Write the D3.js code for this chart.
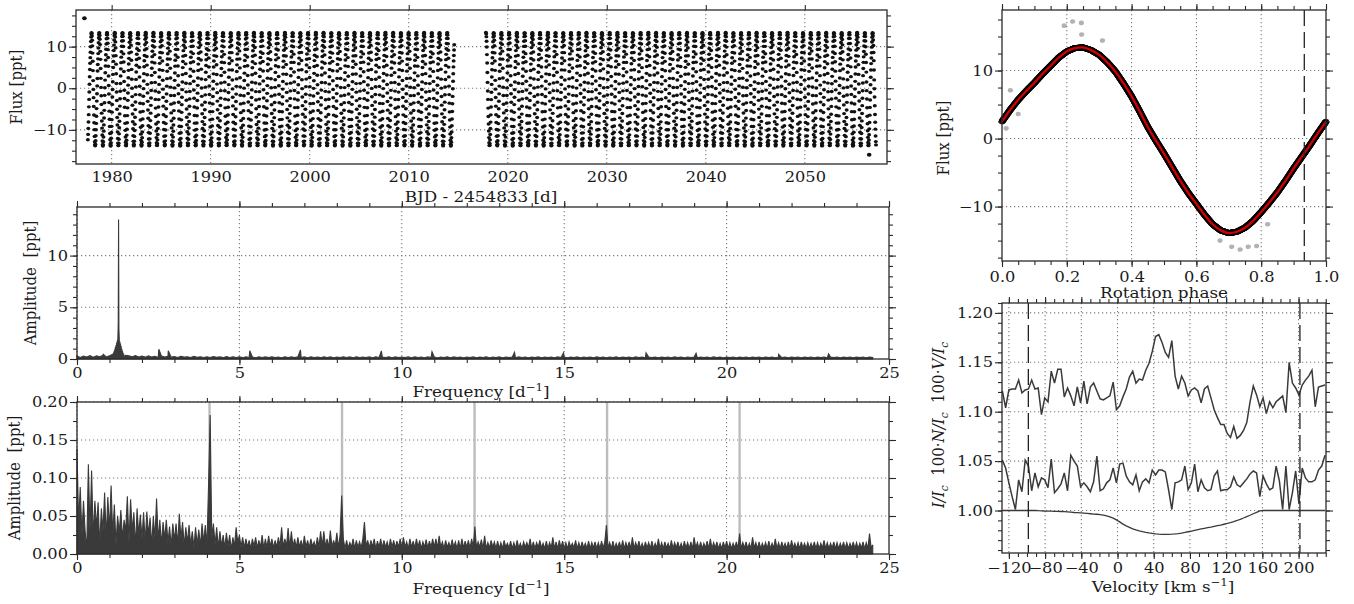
<!DOCTYPE html>
<html><head><meta charset="utf-8">
<script src="https://cdn.jsdelivr.net/npm/d3@7"></script>
<style>
body{margin:0;background:#fff;}
svg text{font-family:"DejaVu Serif",serif;}
</style></head><body>
<svg id="c" width="1354" height="604"></svg>
<script>
// ---------------- DATA ----------------
// K2 light curve: observing windows, cadence, rotation frequency, epoch
const lcSegments = [[1977.6, 2014.6], [2017.8, 2057.2]];
const lcCadence = 0.02043;
const rotFreq = 1.2805;
const lcEpoch = 1977.0;
// phase-folded rotational modulation (red model)
const phaseGrid = [0,0.025,0.05,0.075,0.1,0.125,0.15,0.175,0.2,0.225,0.25,0.275,0.3,0.325,0.35,0.375,0.4,0.425,0.45,0.475,
  0.5,0.525,0.55,0.575,0.6,0.625,0.65,0.675,0.7,0.725,0.75,0.775,0.8,0.825,0.85,0.875,0.9,0.925,0.95,0.975,1.0];
const phaseFlux = [2.5,4.2,5.7,7.0,8.2,9.5,10.7,11.9,12.8,13.3,13.4,13.0,12.3,11.2,9.85,8.1,6.2,4.0,1.7,-0.3,
  -2.2,-4.2,-6.2,-8.0,-9.6,-11.2,-12.6,-13.5,-13.9,-13.7,-13.1,-12.1,-10.8,-9.4,-7.9,-6.2,-4.4,-2.7,-1.0,0.8,2.5];
// isolated outliers
const lcOutTime = [1977.25, 2056.5];
const lcOutFlux = [16.8, -16.0];
const phOutPhase = [0.192,0.218,0.245,0.246,0.026,0.013,0.673,0.709,0.735,0.76,0.786,0.82,0.05,0.31];
const phOutFlux  = [16.6,17.2,17.0,15.3,7.1,1.5,-15.0,-15.9,-16.3,-15.9,-15.8,-12.6,3.6,14.4];
const dashPhase = 0.933;

// Amplitude spectrum of the light curve (0.1 d^-1 grid) + peaks
const ampStep = 0.1;
const ampNoise = [
0.30,0.15,0.28,0.20,0.32,0.18,0.30,0.22,0.35,0.20,
0.32,0.25,0.40,0.30,0.42,0.35,0.30,0.22,0.34,0.20,
0.28,0.18,0.30,0.20,0.26,0.15,0.28,0.20,0.25,0.18,
0.24,0.15,0.26,0.18,0.22,0.14,0.25,0.17,0.22,0.15,
0.22,0.14,0.24,0.16,0.20,0.13,0.23,0.15,0.21,0.14,
0.20,0.13,0.22,0.15,0.19,0.12,0.21,0.14,0.20,0.13,
0.21,0.14,0.19,0.12,0.22,0.15,0.20,0.13,0.21,0.14,
0.20,0.12,0.21,0.14,0.19,0.13,0.22,0.15,0.20,0.12,
0.19,0.13,0.21,0.14,0.20,0.12,0.22,0.14,0.19,0.13,
0.20,0.12,0.21,0.13,0.19,0.14,0.22,0.12,0.20,0.13,
0.19,0.13,0.20,0.12,0.21,0.14,0.19,0.12,0.20,0.13,
0.20,0.12,0.19,0.13,0.21,0.12,0.20,0.14,0.19,0.12,
0.19,0.13,0.20,0.12,0.18,0.14,0.21,0.12,0.19,0.13,
0.20,0.12,0.19,0.13,0.18,0.12,0.20,0.14,0.19,0.12,
0.18,0.13,0.20,0.12,0.19,0.14,0.18,0.12,0.20,0.13,
0.19,0.12,0.18,0.13,0.20,0.12,0.19,0.14,0.18,0.12,
0.20,0.13,0.18,0.12,0.19,0.14,0.20,0.12,0.18,0.13,
0.19,0.12,0.20,0.13,0.18,0.12,0.19,0.14,0.18,0.12,
0.18,0.13,0.19,0.12,0.20,0.14,0.18,0.12,0.19,0.13,
0.19,0.12,0.18,0.13,0.19,0.12,0.20,0.14,0.18,0.12,
0.18,0.13,0.19,0.12,0.18,0.14,0.19,0.12,0.18,0.13,
0.19,0.12,0.18,0.13,0.19,0.12,0.18,0.14,0.19,0.12,
0.18,0.13,0.19,0.12,0.18,0.14,0.19,0.12,0.18,0.13,
0.19,0.12,0.18,0.13,0.19,0.12,0.18,0.14,0.19,0.12,
0.18,0.13,0.19,0.12,0.18,0.14];
const peakRegion = [1.095, 1.455];
const peakFreq = [1.10,1.11,1.12,1.13,1.14,1.15,1.16,1.17,1.18,1.19,1.20,1.21,1.22,1.23,1.24,1.25,1.26,1.27,1.28,1.29,1.30,1.31,1.32,1.33,1.34,1.35,1.36,1.37,1.38,1.39,1.40,1.41,1.42,1.43,1.44,1.45,
  0.81,2.52,2.81,5.32,6.88,9.37,10.93,13.47,14.98,17.52,19.06,21.6,23.14];
const peakAmp = [0.45,0.2,0.6,0.25,0.75,0.3,0.95,0.35,1.15,0.4,1.35,0.5,1.6,0.6,1.8,0.8,2.2,3.5,13.5,3.0,2.0,0.8,1.7,0.6,1.5,0.5,1.25,0.4,1.0,0.35,0.8,0.3,0.6,0.25,0.45,0.2,
  0.45,0.95,0.8,0.8,0.88,0.78,0.7,0.65,0.6,0.6,0.55,0.45,0.5];

// Residual amplitude spectrum (0.05 d^-1 grid)
const resStep = 0.05;
const resAmp = [
0.138,0.04,0.088,0.025,0.07,0.03,0.005,0.118,0.03,0.11,0.02,0.07,0.035,0.068,0.01,0.06,0.03,0.081,0.02,0.075,
0.03,0.09,0.025,0.065,0.012,0.05,0.028,0.058,0.02,0.045,0.03,0.076,0.015,0.072,0.03,0.055,0.01,0.06,0.025,0.052,
0.02,0.055,0.015,0.056,0.025,0.048,0.01,0.05,0.02,0.073,0.018,0.045,0.012,0.042,0.02,0.045,0.015,0.036,0.01,0.04,
0.018,0.04,0.012,0.053,0.02,0.042,0.01,0.035,0.015,0.038,0.012,0.03,0.008,0.035,0.012,0.032,0.01,0.04,0.015,0.038,
0.01,0.09,0.183,0.02,0.04,0.012,0.035,0.008,0.03,0.01,0.025,0.008,0.028,0.01,0.025,0.006,0.022,0.01,0.035,0.015,
0.025,0.009,0.022,0.008,0.02,0.009,0.018,0.007,0.02,0.01,0.022,0.008,0.018,0.009,0.025,0.007,0.02,0.008,0.024,0.01,
0.02,0.008,0.018,0.009,0.022,0.01,0.035,0.009,0.02,0.01,0.034,0.008,0.03,0.009,0.02,0.008,0.022,0.009,0.018,0.008,
0.024,0.009,0.018,0.008,0.02,0.01,0.016,0.008,0.022,0.009,0.03,0.01,0.03,0.009,0.02,0.008,0.031,0.009,0.018,0.01,
0.028,0.008,0.025,0.077,0.02,0.007,0.018,0.008,0.015,0.009,0.02,0.007,0.018,0.009,0.016,0.008,0.02,0.042,0.01,0.018,
0.008,0.018,0.009,0.02,0.007,0.017,0.009,0.02,0.008,0.018,0.009,0.016,0.007,0.02,0.009,0.018,0.008,0.017,0.009,0.02,
0.008,0.022,0.009,0.016,0.007,0.02,0.009,0.017,0.008,0.02,0.009,0.018,0.007,0.016,0.009,0.019,0.008,0.017,0.009,0.02,
0.009,0.02,0.008,0.024,0.009,0.016,0.007,0.018,0.009,0.015,0.008,0.019,0.009,0.016,0.007,0.018,0.007,0.02,0.008,0.017,
0.009,0.018,0.007,0.02,0.009,0.036,0.008,0.016,0.009,0.019,0.007,0.024,0.007,0.015,0.008,0.018,0.009,0.016,0.007,0.017,
0.007,0.015,0.007,0.018,0.009,0.014,0.008,0.017,0.007,0.015,0.007,0.018,0.008,0.014,0.007,0.016,0.009,0.015,0.008,0.02,
0.007,0.016,0.007,0.015,0.009,0.018,0.008,0.014,0.007,0.017,0.007,0.015,0.008,0.022,0.007,0.016,0.007,0.018,0.008,0.017,
0.007,0.015,0.007,0.016,0.009,0.014,0.008,0.018,0.007,0.015,0.007,0.016,0.008,0.014,0.007,0.017,0.007,0.015,0.008,0.016,
0.007,0.015,0.007,0.017,0.008,0.016,0.038,0.008,0.015,0.007,0.017,0.007,0.014,0.008,0.016,0.007,0.018,0.007,0.015,0.008,
0.016,0.007,0.022,0.007,0.015,0.008,0.017,0.007,0.014,0.007,0.016,0.008,0.015,0.007,0.017,0.007,0.014,0.008,0.02,0.007,
0.015,0.007,0.016,0.008,0.014,0.007,0.018,0.007,0.015,0.008,0.016,0.007,0.014,0.007,0.017,0.008,0.015,0.007,0.016,0.007,
0.022,0.008,0.015,0.007,0.016,0.007,0.014,0.008,0.017,0.007,0.02,0.007,0.015,0.008,0.016,0.007,0.014,0.007,0.016,0.008,
0.017,0.007,0.015,0.007,0.014,0.008,0.016,0.007,0.027,0.007,0.015,0.008,0.016,0.007,0.014,0.007,0.022,0.008,0.015,0.007,
0.016,0.007,0.014,0.008,0.015,0.007,0.017,0.007,0.014,0.008,0.02,0.007,0.015,0.007,0.016,0.008,0.014,0.007,0.016,0.007,
0.018,0.008,0.014,0.007,0.015,0.007,0.016,0.008,0.014,0.007,0.015,0.007,0.014,0.008,0.016,0.007,0.015,0.007,0.014,0.008,
0.018,0.007,0.015,0.007,0.014,0.008,0.016,0.007,0.015,0.007,0.014,0.008,0.016,0.007,0.015,0.007,0.014,0.008,0.016,0.007,
0.015,0.007,0.014,0.008,0.016,0.007,0.015,0.007,0.027,0.008,0.012];
const harmonicFreqs = [4.08, 8.16, 12.24, 16.32, 20.40];

// LSD profiles (velocity grid start/step in km/s)
const velStart = -127.2, velStep = 3.6;
const stokesV = [
1.121,1.104,1.122,1.123,1.123,1.132,1.119,1.122,1.123,1.132,
1.123,1.124,1.097,1.114,1.110,1.141,1.129,1.143,1.143,1.115,
1.124,1.116,1.106,1.125,1.109,1.131,1.108,1.125,1.129,1.121,
1.113,1.112,1.114,1.116,1.130,1.102,1.106,1.115,1.123,1.135,
1.141,1.129,1.133,1.132,1.142,1.149,1.161,1.176,1.178,1.170,
1.160,1.155,1.172,1.136,1.123,1.136,1.129,1.116,1.122,1.124,
1.121,1.109,1.123,1.126,1.114,1.102,1.094,1.087,1.087,1.078,
1.074,1.085,1.073,1.076,1.081,1.089,1.110,1.126,1.117,1.105,
1.114,1.098,1.110,1.104,1.110,1.113,1.116,1.099,1.150,1.129,
1.124,1.117,1.127,1.132,1.136,1.142,1.105,1.125,1.126,1.127];
const stokesN = [
1.051,1.043,1.028,1.014,1.001,1.031,1.019,1.051,1.045,1.020,
1.038,1.024,1.033,1.031,1.023,1.052,1.018,1.022,1.027,1.038,
1.020,1.056,1.050,1.045,1.024,1.028,1.024,1.019,1.029,1.055,
1.020,1.022,1.028,1.031,1.043,1.028,1.047,1.048,1.035,1.029,
1.026,1.036,1.020,1.029,1.032,1.028,1.041,1.036,1.041,1.041,
1.039,1.021,1.001,1.028,1.029,1.031,1.045,1.021,1.028,1.047,
1.019,1.031,1.023,1.020,1.021,1.035,1.040,1.020,1.021,1.021,
1.024,1.034,1.026,1.024,1.028,1.032,1.037,1.040,1.038,1.014,
1.035,1.027,1.021,1.023,1.045,1.030,1.001,1.045,1.001,1.018,
1.040,1.007,1.043,1.033,1.029,1.029,1.031,1.041,1.045,1.056];
const stokesI = [
1.000,1.000,1.000,1.000,1.000,1.000,1.000,1.000,1.000,1.000,
1.000,0.9998,0.9997,0.9995,0.9994,0.9993,0.9992,0.9991,0.9990,0.9989,
0.9986,0.9983,0.9980,0.9978,0.9976,0.9973,0.9970,0.9967,0.9964,0.9962,
0.9959,0.9953,0.9945,0.9935,0.9922,0.9905,0.9885,0.9862,0.9845,0.9830,
0.9815,0.9804,0.9794,0.9786,0.9779,0.9773,0.9768,0.9764,0.9761,0.9759,
0.9758,0.9758,0.9760,0.9763,0.9767,0.9772,0.9778,0.9785,0.9792,0.9799,
0.9806,0.9813,0.9820,0.9826,0.9832,0.9839,0.9846,0.9853,0.9861,0.9869,
0.9878,0.9888,0.9899,0.9911,0.9924,0.9938,0.9952,0.9967,0.9982,0.9996,
1.000,1.000,1.000,1.000,1.000,1.000,1.000,1.000,1.000,1.000,
1.000,1.000,1.000,1.000,1.000,1.000,1.000,1.000,1.000,1.000];
const vsiniLimits = [-98.5, 201.5];

// ---------------- DRAWING ----------------
const svg = d3.select('#c');
const FONT = '"DejaVu Serif", serif';
const TICKFS = 14.5, LABFS = 15, SX = 1.12;   // text is drawn slightly wide, as in the original
const INK = '#1a1a1a';

function panel(p) {
  const x = d3.scaleLinear().domain(p.xDom).range([p.l, p.r]);
  const y = d3.scaleLinear().domain(p.yDom).range([p.b, p.t]);
  const g = svg.append('g');
  const grid = g.append('g').attr('stroke', '#7a7a7a').attr('stroke-width', 1.1).attr('stroke-dasharray', '1.2,2.8');
  grid.selectAll('line.v').data(p.xGrid).join('line').attr('class','v')
    .attr('x1', d => x(d)).attr('x2', d => x(d)).attr('y1', p.t).attr('y2', p.b);
  grid.selectAll('line.h').data(p.yGrid).join('line').attr('class','h')
    .attr('y1', d => y(d)).attr('y2', d => y(d)).attr('x1', p.l).attr('x2', p.r);
  const plot = g.append('g');
  const top = g.append('g');
  return {x, y, p, g, plot, top};
}
function axis(P, side, vals, size, fmt, pad) {
  const {x, y, p, top} = P;
  const gen = {left: d3.axisLeft, right: d3.axisRight, top: d3.axisTop, bottom: d3.axisBottom}[side];
  const sc = (side === 'left' || side === 'right') ? y : x;
  const a = gen(sc).tickValues(vals).tickSize(size).tickPadding(pad == null ? 3 : pad)
    .tickFormat(fmt ? fmt : () => '');
  const tr = {left: `translate(${p.l},0)`, right: `translate(${p.r},0)`, top: `translate(0,${p.t})`, bottom: `translate(0,${p.b})`}[side];
  const gg = top.append('g').attr('transform', tr).call(a);
  gg.select('.domain').remove();
  gg.attr('font-family', FONT).attr('font-size', TICKFS).attr('color', '#2a2a2a');
  gg.selectAll('line').attr('stroke-width', 1.1);
  gg.selectAll('text').attr('fill', INK).attr('font-size', TICKFS);
  if (side === 'left') {
    const off = size + (pad == null ? 3 : pad);
    gg.selectAll('text').attr('x', 0).attr('transform', `translate(${-off},0) scale(${SX},1)`);
  } else {
    gg.selectAll('text').attr('transform', `scale(${SX},1)`);
  }
  return gg;
}
function frame(P) {
  const {p, top} = P;
  top.append('rect').attr('x', p.l).attr('y', p.t).attr('width', p.r - p.l).attr('height', p.b - p.t)
    .attr('fill', 'none').attr('stroke', '#2a2a2a').attr('stroke-width', 1.3);
}
function label(txt, x, y, rot) {
  const t = svg.append('text').attr('font-size', LABFS).attr('fill', INK)
    .attr('text-anchor', 'middle').style('white-space', 'pre')
    .attr('transform', `translate(${x},${y})` + (rot ? ` rotate(-90) scale(1,${SX})` : ` scale(${SX},1)`));
  if (typeof txt === 'string') t.text(txt); else txt(t);
  return t;
}
function supLabel(base, sup, tail) {
  return t => {
    t.append('tspan').text(base);
    t.append('tspan').attr('dy', -6).attr('font-size', 10.5).text(sup);
    t.append('tspan').attr('dy', 6).text(tail);
  };
}

// derived points
const fluxAtPhase = d3.scaleLinear().domain(phaseGrid).range(phaseFlux);
const lcTimes = lcSegments.flatMap(([a, b]) => d3.range(a, b, lcCadence));
const lcPoints = lcTimes.map(t => {
  const ph = ((t - lcEpoch) * rotFreq) % 1;
  return {t, ph, f: fluxAtPhase(ph)};
});

// ---- Panel 1: light curve ----
const P1 = panel({l: 76, r: 887, t: 10, b: 164, xDom: [1976.4, 2058.3], yDom: [-18.2, 18.8],
  xGrid: d3.range(1980, 2051, 10), yGrid: [-10, 0, 10]});
P1.plot.selectAll('ellipse').data(lcPoints).join('ellipse')
  .attr('cx', d => P1.x(d.t)).attr('cy', d => P1.y(d.f)).attr('rx', 2.0).attr('ry', 1.7).attr('fill', '#111');
P1.plot.selectAll('ellipse.o').data(lcOutTime).join('ellipse').attr('class','o')
  .attr('cx', d => P1.x(d)).attr('cy', (d, i) => P1.y(lcOutFlux[i])).attr('rx', 2.3).attr('ry', 2).attr('fill', '#111');
frame(P1);
axis(P1, 'left', [-10, 0, 10], 7, d3.format('d'), 2);
axis(P1, 'left', d3.range(-17.5, 18, 2.5), 4);
axis(P1, 'right', [-10, 0, 10], 7);
axis(P1, 'right', d3.range(-17.5, 18, 2.5), 4);
axis(P1, 'top', d3.range(1980, 2051, 10), 5);
axis(P1, 'bottom', d3.range(1980, 2051, 10), 0, d3.format('d'), 8);
label('BJD - 2454833 [d]', 481, 202);
label('Flux [ppt]', 22, 87, true);

// ---- Panel 2: amplitude spectrum ----
const specPts = ampNoise.map((a, i) => [i * ampStep, a])
  .filter(d => d[0] < peakRegion[0] || d[0] > peakRegion[1])
  .concat(peakFreq.map((f, i) => [f, peakAmp[i]]))
  .sort((a, b) => a[0] - b[0]);
const P2 = panel({l: 77, r: 889, t: 207, b: 359, xDom: [0, 25], yDom: [0, 14.7],
  xGrid: [0, 5, 10, 15, 20], yGrid: [5, 10]});
P2.plot.append('path').datum(specPts)
  .attr('d', d3.area().x(d => P2.x(d[0])).y0(P2.y(0)).y1(d => P2.y(d[1])))
  .attr('fill', '#3a3a3a').attr('stroke', '#3a3a3a').attr('stroke-width', 1.1);
frame(P2);
axis(P2, 'left', [0, 5, 10], 7, d3.format('d'), 2);
axis(P2, 'left', d3.range(0, 14.5, 1), 4);
axis(P2, 'right', [0, 5, 10], 7);
axis(P2, 'right', d3.range(0, 14.5, 1), 4);
axis(P2, 'top', d3.range(0, 26, 5), 6);
axis(P2, 'top', d3.range(0, 26, 1), 4);
axis(P2, 'bottom', d3.range(0, 26, 5), 6, d3.format('d'), 3);
axis(P2, 'bottom', d3.range(0, 26, 1), 4);
label(supLabel('Frequency [d', '−1', ']'), 481, 397);
label('Amplitude  [ppt]', 36, 283, true);

// ---- Panel 3: residual spectrum ----
const P3 = panel({l: 77, r: 889, t: 402, b: 554, xDom: [0, 25], yDom: [0, 0.2],
  xGrid: [0, 5, 10, 15, 20], yGrid: [0.05, 0.1, 0.15, 0.2]});
P3.plot.selectAll('line.h').data(harmonicFreqs).join('line').attr('class','h')
  .attr('x1', d => P3.x(d)).attr('x2', d => P3.x(d)).attr('y1', P3.y(0)).attr('y2', P3.y(0.2))
  .attr('stroke', '#bdbdbd').attr('stroke-width', 2.4);
P3.plot.append('path').datum(resAmp)
  .attr('d', d3.area().x((d, i) => P3.x(i * resStep)).y0(P3.y(0)).y1(d => P3.y(d)))
  .attr('fill', '#3a3a3a').attr('stroke', '#3a3a3a').attr('stroke-width', 1.1);
frame(P3);
axis(P3, 'left', d3.range(0, 0.201, 0.05), 7, d3.format('.2f'), 2);
axis(P3, 'left', d3.range(0, 0.201, 0.025), 4);
axis(P3, 'right', d3.range(0, 0.201, 0.05), 7);
axis(P3, 'right', d3.range(0, 0.201, 0.025), 4);
axis(P3, 'top', d3.range(0, 26, 5), 6);
axis(P3, 'top', d3.range(0, 26, 1), 4);
axis(P3, 'bottom', d3.range(0, 26, 5), 6, d3.format('d'), 3);
axis(P3, 'bottom', d3.range(0, 26, 1), 4);
label(supLabel('Frequency [d', '−1', ']'), 481, 594);
label('Amplitude  [ppt]', 20, 478, true);

// ---- Panel 4: phase-folded light curve ----
const P4 = panel({l: 1002, r: 1326, t: 10, b: 261, xDom: [0, 1], yDom: [-18.0, 18.9],
  xGrid: [0.2, 0.4, 0.6, 0.8], yGrid: [-10, 0, 10]});
P4.plot.selectAll('ellipse').data(lcPoints).join('ellipse')
  .attr('cx', d => P4.x(d.ph)).attr('cy', d => P4.y(d.f)).attr('rx', 3.4).attr('ry', 3.0)
  .attr('fill', '#000').attr('fill-opacity', 0.3);
P4.plot.selectAll('ellipse.o').data(phOutPhase).join('ellipse').attr('class','o')
  .attr('cx', d => P4.x(d)).attr('cy', (d, i) => P4.y(phOutFlux[i])).attr('rx', 2.6).attr('ry', 2.3)
  .attr('fill', '#000').attr('fill-opacity', 0.3);
P4.plot.append('path').datum(phaseGrid)
  .attr('d', d3.line().curve(d3.curveCatmullRom).x(d => P4.x(d)).y((d, i) => P4.y(phaseFlux[i])))
  .attr('fill', 'none').attr('stroke', '#d20000').attr('stroke-width', 2.3);
P4.plot.append('line').attr('x1', P4.x(dashPhase)).attr('x2', P4.x(dashPhase))
  .attr('y1', P4.y(18.9)).attr('y2', P4.y(-18.0))
  .attr('stroke', '#222').attr('stroke-width', 1.3).attr('stroke-dasharray', '16,6');
frame(P4);
axis(P4, 'left', [-10, 0, 10], 7, d3.format('d'), 2);
axis(P4, 'left', d3.range(-17.5, 18, 2.5), 4);
axis(P4, 'right', [-10, 0, 10], 7);
axis(P4, 'right', d3.range(-17.5, 18, 2.5), 4);
axis(P4, 'top', d3.range(0, 1.01, 0.2), 6);
axis(P4, 'top', d3.range(0, 1.01, 0.05), 4);
axis(P4, 'bottom', d3.range(0, 1.01, 0.2), 6, d3.format('.1f'), 5);
axis(P4, 'bottom', d3.range(0, 1.01, 0.05), 4);
label('Rotation phase', 1164, 298);
label('Flux [ppt]', 949, 138, true);

// ---- Panel 5: LSD profiles ----
const vel = stokesI.map((d, k) => velStart + k * velStep);
const P5 = panel({l: 1002, r: 1326, t: 303, b: 553, xDom: [-127.6, 230.3], yDom: [0.957, 1.21],
  xGrid: d3.range(-120, 201, 40), yGrid: [1.0, 1.05, 1.1, 1.15, 1.2]});
const prof = arr => d3.line().x((d, k) => P5.x(vel[k])).y(d => P5.y(d))(arr);
[stokesV, stokesN, stokesI].forEach((arr, j) => {
  P5.plot.append('path').attr('d', prof(arr)).attr('fill', 'none')
    .attr('stroke', '#3a3a3a').attr('stroke-width', j < 2 ? 1.5 : 1.3);
});
P5.plot.selectAll('line.d').data(vsiniLimits).join('line').attr('class','d')
  .attr('x1', d => P5.x(d)).attr('x2', d => P5.x(d)).attr('y1', P5.y(1.21)).attr('y2', P5.y(0.957))
  .attr('stroke', '#222').attr('stroke-width', 1.3).attr('stroke-dasharray', '16,6');
frame(P5);
axis(P5, 'left', [1.0, 1.05, 1.1, 1.15, 1.2], 7, d3.format('.2f'), 2);
axis(P5, 'left', d3.range(0.96, 1.2101, 0.01), 4);
axis(P5, 'right', [1.0, 1.05, 1.1, 1.15, 1.2], 7);
axis(P5, 'right', d3.range(0.96, 1.2101, 0.01), 4);
axis(P5, 'top', d3.range(-120, 201, 40), 6);
axis(P5, 'top', d3.range(-120, 231, 10), 4);
axis(P5, 'bottom', d3.range(-120, 201, 40), 6, d3.format('d'), 4);
axis(P5, 'bottom', d3.range(-120, 231, 10), 4);
label(supLabel('Velocity [km s', '−1', ']'), 1163, 592);
label(t => {
  const parts = [['I/I', 'i'], ['c', 's'], ['  100·', 'r'], ['N/I', 'i'], ['c', 's'], ['  100·', 'r'], ['V/I', 'i'], ['c', 's']];
  let sub = false;
  parts.forEach(([s, k]) => {
    const ts = t.append('tspan').text(s);
    if (k === 'i') ts.attr('font-style', 'italic');
    if (k === 's') { ts.attr('font-style', 'italic').attr('font-size', 10.5).attr('dy', 4); sub = true; }
    else if (sub) { ts.attr('dy', -4); sub = false; }
  });
}, 944, 425, true);
</script>
</body></html>
